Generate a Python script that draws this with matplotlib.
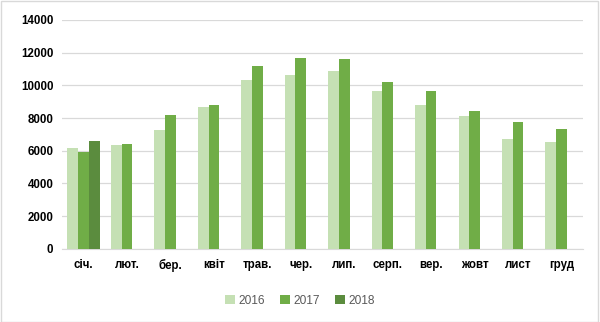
import matplotlib.pyplot as plt
import numpy as np
from matplotlib.patches import Rectangle

plt.rcParams['font.family'] = ['Liberation Sans', 'DejaVu Sans']

months = ["січ.", "лют.", "бер.", "квіт", "трав.", "чер.", "лип.", "серп.", "вер.", "жовт", "лист", "груд"]
v2016 = [6150, 6340, 7270, 8680, 10310, 10620, 10900, 9660, 8800, 8110, 6740, 6540]
v2017 = [5950, 6420, 8170, 8820, 11200, 11650, 11590, 10190, 9660, 8435, 7760, 7330]
v2018 = [6600, np.nan, np.nan, np.nan, np.nan, np.nan, np.nan, np.nan, np.nan, np.nan, np.nan, np.nan]

series = [("2016", v2016, "#c5e0b4"), ("2017", v2017, "#70ad47"), ("2018", v2018, "#5b8c3e")]

fig = plt.figure(figsize=(6, 3.22), dpi=100)
ax = fig.add_axes([0.103, 0.227, 0.869, 0.711])

x = np.arange(len(months))
w = 0.246
for i, (name, vals, col) in enumerate(series):
    ax.bar(x + (i - 1) * w, vals, w, color=col, label=name, zorder=3)

ax.set_xlim(-0.5, len(months) - 0.5)
ax.set_ylim(0, 14000)
ax.set_yticks(range(0, 14001, 2000))
ax.set_xticks(x)
ax.set_xticklabels(months, fontweight="bold", fontsize=8.3, color="#000000")
for lbl in ax.get_yticklabels():
    lbl.set_fontweight("bold")
    lbl.set_fontsize(8.3)
ax.tick_params(length=0, pad=6)
ax.tick_params(axis="x", pad=7)
ax.grid(axis="y", color="#d9d9d9", linewidth=0.9, zorder=0)
for s in ["top", "right", "left"]:
    ax.spines[s].set_visible(False)
ax.spines["bottom"].set_color("#d9d9d9")

fig.legend(loc="center", bbox_to_anchor=(0.5, 0.065), ncol=3, frameon=False,
           fontsize=8.6, handlelength=0.8, handleheight=0.8, columnspacing=1.3,
           handletextpad=0.3, labelcolor="#595959")

fig.patches.append(Rectangle((0.001, 0.001), 0.996, 0.996, transform=fig.transFigure,
                             fill=False, edgecolor="#d9d9d9", linewidth=1))

fig.savefig("out.png", dpi=100)
